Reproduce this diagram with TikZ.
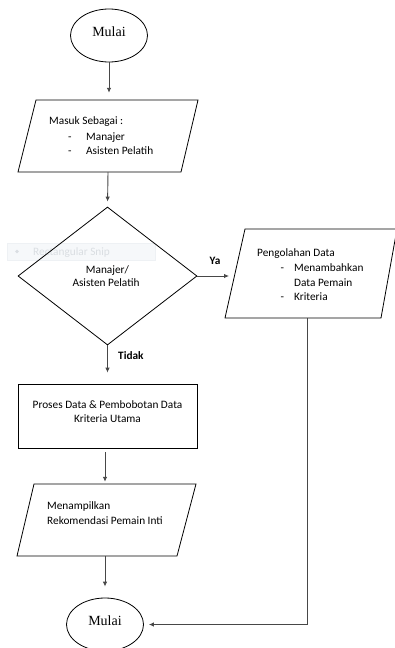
\documentclass[tikz,border=0pt]{standalone}
\usepackage{fontspec}
\setmainfont{Carlito}
\newfontfamily\mulaifont{Liberation Serif}
\usetikzlibrary{shapes.geometric,arrows.meta,calc}
\definecolor{ghostfill}{HTML}{F6F8FA}
\definecolor{ghostdraw}{HTML}{EEF1F4}
\definecolor{ghosttext}{HTML}{DADEE2}
\begin{document}
\begin{tikzpicture}[x=1pt,y=-1pt,
  shp/.style={draw=black, line width=0.8pt},
  conn/.style={draw=black!72, line width=0.9pt, -{Latex[length=5pt,width=4.5pt]}},
  txt/.style={font=\fontsize{11.3}{14.5}\selectfont, inner sep=0pt, text=black},
  lbl/.style={txt, anchor=base west},
  lblc/.style={txt, anchor=base},
  bold/.style={font=\fontsize{11.3}{14.5}\selectfont\bfseries},
  term/.style={shp, ellipse, minimum width=77pt, minimum height=53pt, inner sep=0pt,
    font=\mulaifont\fontsize{14}{16}\selectfont, text depth=7pt},
  hold/.style={inner sep=0pt, draw=none}
]
\useasboundingbox (0,0) rectangle (395,648);

% faint screenshot artifact
\node[fill=ghostfill, draw=ghostdraw, minimum width=148pt, minimum height=17pt, inner sep=0pt, anchor=north west] (ghost) at (7,243) {};
\fill[ghosttext] (17,251.5) circle (1.8pt);
\node[lbl, text=ghosttext] (ghostt) at (33,255.5) {Rectangular Snip};

% start
\node[term] (start) at (109,35.5) {Mulai};

% input 1
\node[hold, minimum width=180pt, minimum height=72pt] (in1) at (108,136) {};
\draw[shp] (36,100) -- (198,100) -- (181,172) -- (18,172) -- cycle;
\node[lbl] (t1) at (49,124.5) {Masuk Sebagai :};
\node[lbl] (t1d1) at (68,140) {-};
\node[lbl] (t1a) at (86,140) {Manajer};
\node[lbl] (t1d2) at (68,154.5) {-};
\node[lbl] (t1b) at (86,154.5) {Asisten Pelatih};

% decision
\node[shp, diamond, minimum width=179pt, minimum height=138pt, inner sep=0pt] (dec) at (107.5,276) {};
\node[lblc] (d1) at (107.5,273.5) {Manajer/};
\node[lblc] (d2) at (106,286.5) {Asisten Pelatih};

% input 2 (right)
\node[hold, minimum width=172pt, minimum height=89pt] (in2) at (311,273.5) {};
\draw[shp] (245,229) -- (397,229) -- (381,318) -- (225,318) -- cycle;
\coordinate (in2w) at (234.5,276);
\coordinate (in2b) at (307,318);
\node[lbl] (p1) at (257,256.5) {Pengolahan Data};
\node[lbl] (p1d) at (280.5,271.5) {-};
\node[lbl] (p2) at (294,271.5) {Menambahkan};
\node[lbl] (p3) at (294,286.5) {Data Pemain};
\node[lbl] (p4d) at (280.5,300.5) {-};
\node[lbl] (p4) at (294,300.5) {Kriteria};

% process
\node[shp, rectangle, minimum width=179pt, minimum height=64pt, inner sep=0pt] (proc) at (107.5,416) {};
\node[lblc] (r1) at (107.5,408.5) {Proses Data \& Pembobotan Data};
\node[lblc] (r2) at (107.5,422.5) {Kriteria Utama};

% output
\node[hold, minimum width=179pt, minimum height=72pt] (out) at (106.5,520) {};
\draw[shp] (34,484) -- (196,484) -- (177,556) -- (17,556) -- cycle;
\node[lbl] (o1) at (47,509.5) {Menampilkan};
\node[lbl] (o2) at (47,524.5) {Rekomendasi Pemain Inti};

% end
\node[term] (end) at (105,624.5) {Mulai};

% connectors
\draw[conn, shorten >=7pt] (start.south) -- (start.south |- in1.north);
\draw[conn, shorten >=5pt] (in1.south) -- (dec.north);
\draw[conn, shorten >=5.5pt] (dec.east) -- (in2w);
\node[lblc, bold] (ya) at (215,264.5) {Ya};
\draw[conn, shorten >=11pt] (dec.south) -- (proc.north);
\node[lbl, bold] (tidak) at (118,359.5) {Tidak};
\draw[conn, shorten <=4pt, shorten >=2pt] (proc.south -| end) -- (out.north -| end);
\draw[conn, shorten >=11pt] (out.south -| end) -- (end.north);
\draw[conn, shorten >=5pt] (in2b) -- (in2b |- end.east) -- (end.east);
\end{tikzpicture}
\end{document}
